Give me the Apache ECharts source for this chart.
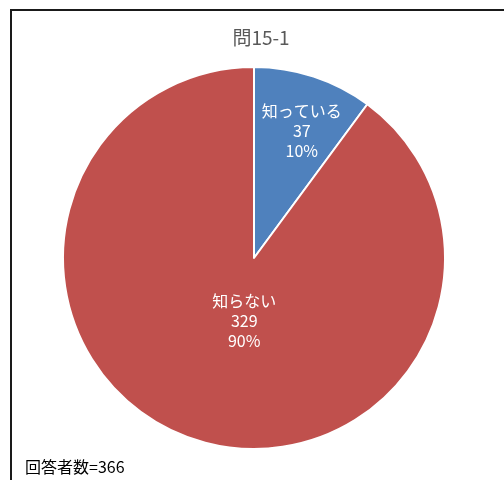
<!DOCTYPE html>
<html><head><meta charset="utf-8">
<script src="https://cdn.jsdelivr.net/npm/echarts@6/dist/echarts.min.js"></script>
<style>html,body{margin:0;padding:0;background:#fff}#c{width:504px;height:480px}</style>
</head><body><div id="c"></div>
<script>
const categories = ['知っている', '知らない'];
const counts = [37, 329];
const percents = ['10%', '90%'];
const titleText = '問15-1';
const noteText = '回答者数=366';

const colors = ['#4F81BD', '#C0504D'];
const offsets = [[17, -34], [21, -31]];
const chart = echarts.init(document.getElementById('c'), null, {renderer: 'canvas'});
chart.setOption({
  animation: false,
  title: {
    text: titleText, left: 256, top: 23, textAlign: 'center',
    textStyle: {fontFamily: 'Noto Sans CJK JP', fontSize: 19, fontWeight: 'normal', color: '#595959'}
  },
  graphic: [
    {type: 'rect', shape: {x: 11, y: 10, width: 600, height: 600}, style: {fill: 'none', stroke: '#1a1a1a', lineWidth: 2}, z: 100},
    {type: 'text', left: 25, top: 459, style: {text: noteText, font: '16px "Noto Sans CJK JP"', fill: '#000'}}
  ],
  series: [{
    type: 'pie',
    center: [254, 258],
    radius: [0, 191],
    startAngle: 90,
    clockwise: true,
    itemStyle: {borderColor: '#fff', borderWidth: 2},
    label: {
      position: 'inside', color: '#fff', fontFamily: 'Noto Sans CJK JP', fontSize: 16, lineHeight: 20,
      formatter: p => p.name + '\n' + p.value + '\n' + percents[p.dataIndex]
    },
    emphasis: {disabled: true},
    data: categories.map((n, i) => ({
      name: n, value: counts[i],
      itemStyle: {color: colors[i]},
      label: {offset: offsets[i]}
    }))
  }]
});
</script></body></html>
